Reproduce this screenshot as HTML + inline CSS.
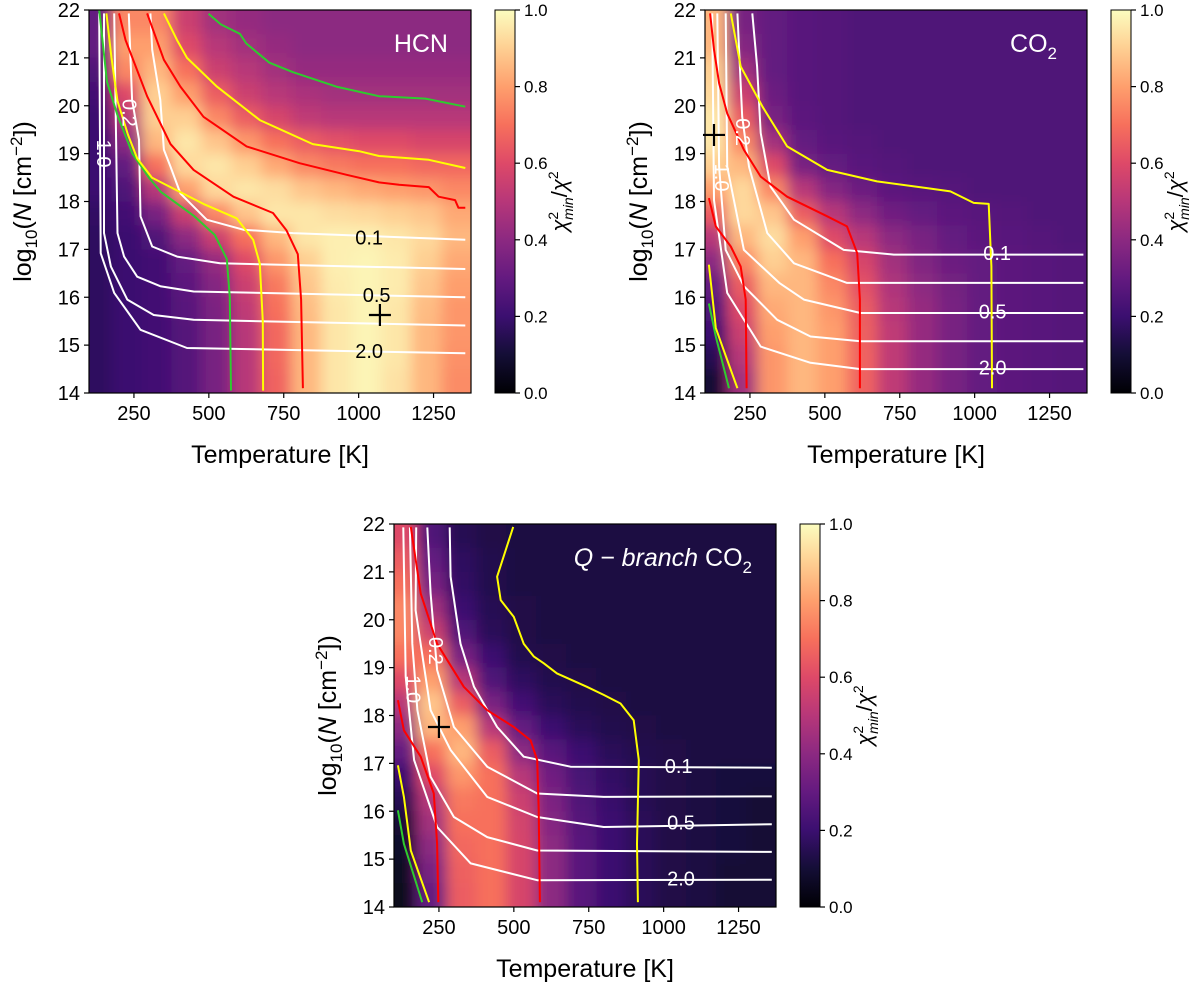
<!DOCTYPE html>
<html><head><meta charset="utf-8"><title>chi2 maps</title>
<style>
html,body{margin:0;padding:0;background:#fff;}
svg{display:block;font-family:"Liberation Sans","DejaVu Sans",sans-serif;}
</style></head>
<body>
<svg id="fig" width="1200" height="984" viewBox="0 0 1200 984" xmlns="http://www.w3.org/2000/svg">
<defs>
<linearGradient id="magma" x1="0" y1="1" x2="0" y2="0">
<stop offset="0" stop-color="#000004"/><stop offset="0.1" stop-color="#140e36"/><stop offset="0.2" stop-color="#3b0f70"/><stop offset="0.3" stop-color="#641a80"/><stop offset="0.4" stop-color="#8c2981"/><stop offset="0.5" stop-color="#b73779"/><stop offset="0.6" stop-color="#de4968"/><stop offset="0.7" stop-color="#f7705c"/><stop offset="0.8" stop-color="#fe9f6d"/><stop offset="0.9" stop-color="#fecf92"/><stop offset="1" stop-color="#fcfdbf"/>
</linearGradient>
<filter id="soft" x="-10%" y="-10%" width="120%" height="120%"><feGaussianBlur stdDeviation="7"/></filter>
</defs>
</svg>
<script>
// ---- shared grid ----
const temps = [125,225,325,425,525,625,725,825,925,1025,1125,1225,1325];
const nCenters = [21.75,21.25,20.75,20.25,19.75,19.25,18.75,18.25,17.75,17.25,16.75,16.25,15.75,15.25,14.75,14.25];
const xTicks = [250,500,750,1000,1250];
const yTicks = [14,15,16,17,18,19,20,21,22];
const cbTicks = [0.0,0.2,0.4,0.6,0.8,1.0];
const cbTickLabels = ["0.0","0.2","0.4","0.6","0.8","1.0"];
const contourLevels = ["0.1","0.2","0.5","1.0","2.0"];

// ---- HCN ----
const hcnValues = [
[.3,.75,.75,.55,.45,.42,.4,.4,.4,.4,.4,.4,.4],
[.3,.8,.8,.6,.5,.45,.42,.4,.4,.4,.4,.4,.4],
[.25,.75,.85,.7,.55,.5,.45,.42,.42,.42,.42,.42,.42],
[.22,.6,.9,.8,.65,.55,.5,.47,.45,.45,.45,.45,.45],
[.2,.5,.9,.9,.75,.65,.58,.52,.5,.5,.5,.5,.5],
[.2,.4,.85,.95,.88,.78,.7,.65,.62,.6,.6,.58,.58],
[.2,.3,.7,.92,.95,.9,.82,.75,.72,.7,.7,.68,.68],
[.2,.25,.5,.8,.92,.95,.93,.88,.85,.82,.8,.78,.75],
[.18,.22,.35,.55,.75,.88,.95,.95,.93,.92,.9,.88,.82],
[.17,.2,.25,.4,.55,.7,.85,.95,.97,.97,.95,.92,.85],
[.17,.2,.22,.3,.42,.6,.78,.9,.97,.98,.96,.9,.82],
[.17,.2,.22,.28,.38,.55,.72,.88,.96,.98,.96,.88,.8],
[.17,.2,.22,.27,.36,.52,.7,.86,.95,.98,.95,.86,.78],
[.17,.2,.22,.26,.35,.5,.68,.85,.95,.98,.95,.85,.78],
[.17,.2,.22,.26,.35,.5,.68,.85,.95,.98,.95,.85,.77],
[.17,.2,.22,.26,.35,.5,.67,.85,.95,.98,.94,.85,.76]];
const hcnWhite = [
[[305,21.93],[311,21.17],[338,20.12],[350,19.08],[372,18.73],[405,18.17],[493,17.62],[615,17.41],[781,17.34],[1356,17.2]],
[[233,21.93],[244,20.12],[267,19.29],[272,17.69],[311,17.06],[394,16.85],[537,16.71],[1356,16.59]],
[[184,21.93],[195,17.34],[217,16.85],[261,16.43],[338,16.23],[449,16.12],[1356,16.0]],
[[150,21.93],[150,17.34],[173,16.64],[228,15.95],[316,15.63],[449,15.53],[1356,15.41]],
[[134,21.93],[139,16.92],[184,16.09],[272,15.32],[427,14.94],[1356,14.83]]];
const hcnRed = [
[[200,21.93],[222,21.37],[294,20.2],[372,19.2],[449,18.66],[582,18.1],[714,17.76],[759,17.4],[797,16.9],[808,15.95],[814,14.1]],
[[294,21.93],[350,20.96],[405,20.4],[482,19.77],[626,19.15],[803,18.8],[958,18.56],[1068,18.4],[1135,18.35],[1234,18.3],[1267,18.1],[1322,18.03],[1333,17.87],[1356,17.87]]];
const hcnYellow = [
[[158,21.93],[175,21],[195,20.1],[230,19.4],[261,18.9],[310,18.5],[372,18.3],[482,17.95],[593,17.65],[648,17.2],[670,16.7],[680,15.5],[681,14.05]],
[[350,21.93],[394,21.37],[427,21.0],[527,20.4],[670,19.7],[847,19.2],[1002,19.05],[1068,18.95],[1234,18.87],[1356,18.7]]];
const hcnGreen = [
[[134,22],[160,20.5],[195,19.8],[245,19],[300,18.5],[340,18.2],[450,17.7],[520,17.3],[560,16.8],[570,16],[574,14.05]],
[[499,21.92],[540,21.7],[604,21.5],[625,21.3],[702,20.9],[781,20.7],[925,20.4],[1068,20.2],[1223,20.15],[1356,19.98]]];
const hcnBest = [1071,15.63];

// ---- CO2 ----
const co2Values = [
[.85,.35,.3,.27,.26,.25,.25,.25,.25,.25,.25,.25,.25],
[.85,.38,.3,.27,.26,.25,.25,.25,.25,.25,.25,.25,.25],
[.9,.45,.3,.27,.26,.25,.25,.25,.25,.25,.25,.25,.25],
[.92,.55,.32,.27,.26,.25,.25,.25,.25,.25,.25,.25,.25],
[.95,.65,.35,.28,.26,.25,.25,.25,.25,.25,.25,.25,.25],
[.95,.75,.45,.3,.27,.26,.25,.25,.25,.25,.25,.25,.25],
[.9,.85,.6,.35,.3,.27,.26,.25,.25,.25,.25,.25,.25],
[.8,.92,.75,.5,.38,.32,.28,.27,.26,.25,.25,.25,.25],
[.65,.92,.88,.65,.5,.4,.33,.3,.28,.27,.26,.25,.25],
[.5,.85,.93,.8,.6,.5,.4,.35,.3,.28,.27,.26,.25],
[.4,.75,.9,.85,.7,.58,.45,.37,.32,.3,.28,.27,.26],
[.3,.65,.85,.85,.75,.62,.48,.4,.34,.3,.28,.27,.26],
[.25,.6,.82,.85,.78,.65,.5,.42,.35,.3,.28,.27,.26],
[.2,.55,.8,.85,.8,.66,.52,.42,.35,.3,.28,.27,.26],
[.15,.5,.78,.85,.8,.67,.52,.42,.35,.3,.28,.27,.26],
[.1,.45,.78,.85,.8,.67,.52,.42,.35,.3,.28,.27,.26]];
const co2White = [
[[258,21.93],[274,20.82],[286,19.43],[319,18.31],[397,17.62],[563,16.99],[730,16.89],[1363,16.89]],
[[208,21.93],[224,19.77],[247,18.73],[308,17.34],[397,16.71],[574,16.3],[1363,16.3]],
[[169,21.93],[174,18.73],[230,16.99],[348,16.3],[430,15.95],[619,15.67],[1363,15.67]],
[[141,21.93],[147,18.73],[169,16.99],[230,16.23],[341,15.53],[452,15.18],[619,15.08],[1363,15.08]],
[[124,21.93],[130,18.03],[174,16.09],[286,14.97],[452,14.63],[619,14.5],[1363,14.5]]];
const co2Red = [
[[117,21.93],[130,21.17],[147,20.47],[174,19.84],[230,19.08],[286,18.52],[374,18.1],[508,17.69],[574,17.48],[608,16.92],[617,15.95],[617,14.1]],
[[113,18.07],[136,17.48],[186,17.06],[219,16.64],[236,15.95],[239,14.1]]];
const co2Yellow = [
[[186,21.93],[219,20.82],[292,19.98],[374,19.15],[508,18.66],[674,18.42],[841,18.28],[919,18.21],[997,17.97],[1047,17.95],[1056,16.64],[1058,14.1]],
[[113,16.68],[136,15.36],[158,14.97],[208,14.1]]];
const co2Green = [[[113,15.87],[136,15.18],[180,14.1]]];
const co2Best = [130,19.39];

// ---- Q-branch CO2 ----
const qValues = [
[.6,.25,.15,.13,.12,.12,.12,.12,.12,.12,.12,.12,.12],
[.65,.3,.17,.14,.12,.12,.12,.12,.12,.12,.12,.12,.12],
[.7,.35,.18,.14,.12,.12,.12,.12,.12,.12,.12,.12,.12],
[.75,.45,.2,.15,.13,.12,.12,.12,.12,.12,.12,.12,.12],
[.75,.55,.25,.16,.13,.12,.12,.12,.12,.12,.12,.12,.12],
[.7,.7,.35,.2,.14,.13,.12,.12,.12,.12,.12,.12,.12],
[.6,.8,.5,.25,.17,.14,.13,.12,.12,.12,.12,.12,.12],
[.5,.88,.65,.35,.22,.16,.14,.13,.12,.12,.12,.12,.12],
[.4,.85,.8,.5,.3,.2,.16,.14,.13,.12,.12,.12,.12],
[.3,.7,.85,.65,.4,.27,.2,.16,.14,.13,.12,.12,.12],
[.2,.6,.78,.7,.5,.33,.23,.18,.15,.13,.12,.11,.11],
[.15,.5,.72,.7,.55,.36,.25,.19,.15,.13,.12,.11,.1],
[.1,.45,.7,.7,.57,.38,.26,.2,.16,.13,.12,.11,.1],
[.08,.4,.68,.7,.58,.4,.27,.2,.16,.13,.12,.11,.1],
[.06,.35,.66,.7,.58,.4,.27,.2,.16,.13,.12,.1,.1],
[.05,.3,.65,.7,.58,.4,.27,.2,.16,.13,.12,.1,.1]];
const qWhite = [
[[286,21.93],[289,20.9],[322,19.5],[367,18.6],[444,17.76],[533,17.14],[689,16.93],[1361,16.91]],
[[211,21.93],[222,20.55],[244,18.95],[300,17.76],[411,16.93],[578,16.37],[800,16.3],[1361,16.31]],
[[174,21.93],[172,20.2],[222,18.11],[289,17.28],[411,16.3],[578,15.88],[800,15.67],[1361,15.73]],
[[153,21.93],[161,19.5],[178,18.11],[222,16.72],[300,15.88],[411,15.46],[578,15.18],[1361,15.15]],
[[131,21.93],[139,18.81],[167,17.07],[244,15.67],[356,14.91],[578,14.56],[1361,14.57]]];
const qRed = [
[[156,21.94],[189,20.55],[244,19.5],[333,18.6],[411,18.11],[500,17.76],[556,17.48],[578,17.07],[583,16.02],[587,14.1]],
[[113,18.32],[133,17.69],[189,17.14],[233,16.37],[244,15.32],[248,14.1]]];
const qYellow = [
[[498,21.94],[444,20.9],[456,20.41],[500,20.06],[533,19.5],[567,19.23],[600,19.09],[644,18.88],[744,18.6],[800,18.43],[856,18.25],[900,17.9],[917,17.07],[911,15.32],[914,14.1]],
[[113,16.96],[133,16.3],[156,15.18],[217,14.1]]];
const qGreen = [[[113,16.02],[133,15.32],[194,14.1]]];
const qBest = [250,17.76];

// ---- rendering ----
const NS = "http://www.w3.org/2000/svg";
const svg = document.getElementById("fig");
const magmaStops = [[0,[0,0,4]],[.1,[20,14,54]],[.2,[59,15,112]],[.3,[100,26,128]],[.4,[140,41,129]],[.5,[183,55,121]],[.6,[222,73,104]],[.7,[247,112,92]],[.8,[254,159,109]],[.9,[254,207,146]],[1,[252,253,191]]];
function magma(v){
  v=Math.max(0,Math.min(1,v));
  for(let i=1;i<magmaStops.length;i++){
    if(v<=magmaStops[i][0]){
      const a=magmaStops[i-1],b=magmaStops[i],f=(v-a[0])/(b[0]-a[0]);
      const c=a[1].map((x,k)=>Math.round(x+(b[1][k]-x)*f));
      return "rgb("+c.join(",")+")";
    }
  }
  return "rgb(252,253,191)";
}
function mk(tag,attrs,parent){
  const e=document.createElementNS(NS,tag);
  for(const k in attrs) e.setAttribute(k,attrs[k]);
  (parent||svg).appendChild(e);
  return e;
}

function drawPanel(p){
  const T0=100,T1=1375,N0=14,N1=22;
  const xs=T=>p.x+(T-T0)/(T1-T0)*p.w;
  const ys=N=>p.y+(N1-N)/(N1-N0)*p.h;
  const g=mk("g",{});
  
  
  const cp=mk("clipPath",{id:p.id+"-clip"},g);
  mk("rect",{x:p.x,y:p.y,width:p.w,height:p.h},cp);
  const clipG=mk("g",{"clip-path":"url(#"+p.id+"-clip)"},g);
  const heat=mk("g",{filter:"url(#soft)"},clipG);
  
  
  for(let j=0;j<nCenters.length;j++){
    for(let i=0;i<temps.length;i++){
      let x1=xs(temps[i]-50),x2=xs(temps[i]+50),y1=ys(nCenters[j]+0.25),y2=ys(nCenters[j]-0.25);
      if(i===0)x1-=40; if(i===temps.length-1)x2+=40;
      if(j===0)y1-=40; if(j===nCenters.length-1)y2+=40;
      const r=mk("rect",{x:x1,y:y1,width:x2-x1+0.5,height:y2-y1+0.5,fill:magma(p.values[j][i])},heat);
      
      
    }
  }
  const line=(pts,color,name)=>{
    const pl=mk("polyline",{points:pts.map(q=>xs(q[0]).toFixed(1)+","+ys(q[1]).toFixed(1)).join(" "),fill:"none",stroke:color,"stroke-width":2,"stroke-linejoin":"round"},clipG);
    
    
  };
  p.white.forEach((c,k)=>line(c,"#ffffff","contour-"+contourLevels[k]));
  p.green.forEach(c=>line(c,"#2ecc2e","green-contour"));
  p.yellow.forEach(c=>line(c,"#ffff00","yellow-contour"));
  p.red.forEach(c=>line(c,"#ff0000","red-contour"));
  p.labels.forEach(l=>{
    const t=mk("text",{x:xs(l[1]),y:ys(l[2])+7,"font-size":20,fill:l[3],"text-anchor":"middle"},g);
    t.textContent=l[0];
    if(l[4]) t.setAttribute("transform","rotate("+l[4]+" "+xs(l[1])+" "+ys(l[2]).toFixed(1)+")");
    
    
  });
  const bx=xs(p.best[0]),by=ys(p.best[1]);
  const m=mk("path",{d:`M${bx-11},${by}H${bx+11}M${bx},${by-11}V${by+11}`,stroke:"#000","stroke-width":2.2},g);
  
  
  const fr=mk("rect",{x:p.x,y:p.y,width:p.w,height:p.h,fill:"none",stroke:"#000","stroke-width":1.2},g);
  
  
  xTicks.forEach(t=>{
    const x=xs(t);
    mk("line",{x1:x,x2:x,y1:p.y+p.h,y2:p.y+p.h+5,stroke:"#000","stroke-width":1.2},g);
    const tx=mk("text",{x:x,y:p.y+p.h+27,"font-size":20,"text-anchor":"middle",fill:"#000"},g);
    tx.textContent=t;
    
    
  });
  yTicks.forEach(t=>{
    const y=ys(t);
    mk("line",{x1:p.x-5,x2:p.x,y1:y,y2:y,stroke:"#000","stroke-width":1.2},g);
    const ty=mk("text",{x:p.x-9,y:y+7,"font-size":20,"text-anchor":"end",fill:"#000"},g);
    ty.textContent=t;
    
    
  });
  const xt=mk("text",{x:p.x+p.w/2,y:p.y+p.h+70,"font-size":25,"text-anchor":"middle",fill:"#000"},g);
  xt.textContent="Temperature [K]";
  
  
  const ycx=p.x-58, ycy=p.y+p.h/2;
  const yt=mk("text",{x:ycx,y:ycy,"font-size":25,"text-anchor":"middle",fill:"#000",transform:`rotate(-90 ${ycx} ${ycy})`},g);
  yt.innerHTML='log<tspan font-size="17" dy="6">10</tspan><tspan dy="-6">(</tspan><tspan font-style="italic">N</tspan> [cm<tspan font-size="17" dy="-9">−2</tspan><tspan dy="9">])</tspan>';
  
  
  const tt=mk("text",{x:p.titleX,y:p.y+42,"font-size":25,"text-anchor":"end",fill:"#fff"},g);
  tt.innerHTML=p.title;
  
  
  const cb=mk("rect",{x:p.cbx,y:p.y,width:20,height:p.h,fill:"url(#magma)",stroke:"#000","stroke-width":1},g);
  
  
  cbTicks.forEach((v,k)=>{
    const y=p.y+p.h-v*p.h;
    mk("line",{x1:p.cbx+20,x2:p.cbx+25,y1:y,y2:y,stroke:"#000","stroke-width":1.2},g);
    const ct=mk("text",{x:p.cbx+29,y:y+6,"font-size":17,fill:"#000"},g);
    ct.textContent=cbTickLabels[k];
    
    
  });
  const lx=p.cbx+72, ly=p.y+p.h/2;
  const cl=mk("text",{x:lx,y:ly,"font-size":22,"text-anchor":"middle",fill:"#000",transform:`rotate(-90 ${lx} ${ly})`},g);
  cl.innerHTML='<tspan font-style="italic">χ</tspan><tspan font-size="14" dy="-9">2</tspan><tspan font-size="14" font-style="italic" dx="-8" dy="15">min</tspan><tspan dy="-6">/</tspan><tspan font-style="italic">χ</tspan><tspan font-size="14" dy="-9">2</tspan>';
  
  
}

drawPanel({id:"hcn",x:89,y:10,w:382,h:383,cbx:495,values:hcnValues,white:hcnWhite,red:hcnRed,yellow:hcnYellow,green:hcnGreen,best:hcnBest,titleX:448,title:"HCN",
  labels:[["0.1",1035,17.25,"#000"],["0.5",1060,16.05,"#000"],["2.0",1035,14.88,"#000"],["1.0",150,19.0,"#fff",90],["0.2",236,19.85,"#fff",90]]});
drawPanel({id:"co2",x:705,y:10,w:382,h:383,cbx:1111,values:co2Values,white:co2White,red:co2Red,yellow:co2Yellow,green:co2Green,best:co2Best,titleX:1057,title:'CO<tspan font-size="17" dy="7">2</tspan>',
  labels:[["0.1",1075,16.92,"#fff"],["0.5",1060,15.7,"#fff"],["2.0",1060,14.53,"#fff"],["1.0",157,18.5,"#fff",90],["0.2",226,19.45,"#fff",90]]});
drawPanel({id:"qbranch",x:394,y:524,w:382,h:383,cbx:800,values:qValues,white:qWhite,red:qRed,yellow:qYellow,green:qGreen,best:qBest,titleX:752,title:'<tspan font-style="italic">Q − branch</tspan> CO<tspan font-size="17" dy="7">2</tspan>',
  labels:[["0.1",1050,16.94,"#fff"],["0.5",1058,15.76,"#fff"],["2.0",1058,14.6,"#fff"],["1.0",165,18.55,"#fff",90],["0.2",240,19.35,"#fff",90]]});
</script>
</body></html>
